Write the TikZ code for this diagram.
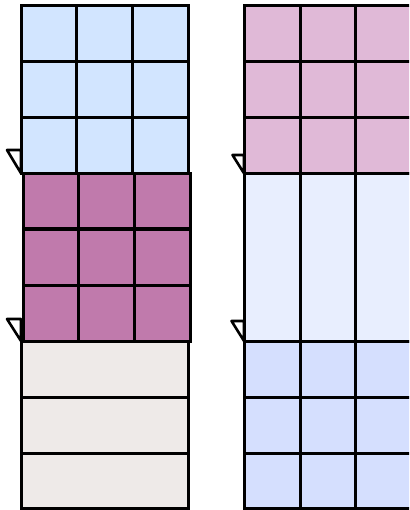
\documentclass[tikz,border=0pt]{standalone}
\begin{document}
\begin{tikzpicture}[x=1pt,y=-1pt,
  gridline/.style={line width=3pt,draw=black},
  tri/.style={line width=2.6pt,draw=black,fill=white,line join=round}]
\definecolor{lblue}{HTML}{D2E5FF}
\definecolor{mag}{HTML}{C07AAC}
\definecolor{beige}{HTML}{EEEAE8}
\definecolor{pink}{HTML}{E0B9D7}
\definecolor{lav}{HTML}{E8EEFE}
\definecolor{bblue}{HTML}{D5DFFE}
\useasboundingbox (0,0) rectangle (409,510);
\clip (0,0) rectangle (409,510);
% left column
\fill[lblue] (21,6) rectangle (188,173.3);
\fill[mag] (23,173.3) rectangle (190,341);
\fill[beige] (21,341) rectangle (188,508);
% right column
\fill[pink] (244,6) rectangle (411.7,173.3);
\fill[lav] (244,173.3) rectangle (411.7,341);
\fill[bblue] (244,341) rectangle (411.7,508);
% left grids
\draw[gridline] (21,6) rectangle (188,173.3);
\foreach \x in {76.7,132.3} \draw[gridline] (\x,6) -- (\x,173.3);
\foreach \y in {62,117.7} \draw[gridline] (21,\y) -- (188,\y);
\draw[gridline] (23,173.3) rectangle (190,341);
\foreach \x in {78.7,134.3} \draw[gridline] (\x,173.3) -- (\x,341);
\foreach \y in {229,285} \draw[gridline] (23,\y) -- (190,\y);
\draw[gridline] (21,341) rectangle (188,508);
\foreach \y in {397,453} \draw[gridline] (21,\y) -- (188,\y);
% right grids
\draw[gridline] (244,6) rectangle (411.7,173.3);
\foreach \x in {300,355.8} \draw[gridline] (\x,6) -- (\x,173.3);
\foreach \y in {62,117.7} \draw[gridline] (244,\y) -- (411.7,\y);
\draw[gridline] (244,173.3) rectangle (411.7,341);
\foreach \x in {300,355.8} \draw[gridline] (\x,173.3) -- (\x,341);
\draw[gridline] (244,341) rectangle (411.7,508);
\foreach \x in {300,355.8} \draw[gridline] (\x,341) -- (\x,508);
\foreach \y in {397,453} \draw[gridline] (244,\y) -- (411.7,\y);
% markers
\coordinate (la) at (21,173.3);
\coordinate (lb) at (21,341);
\coordinate (ra) at (244,173.3);
\coordinate (rb) at (244,341);
\draw[tri] (7,150) -- (21,150) -- (la) -- cycle;
\draw[tri] (7,319) -- (21,319) -- (lb) -- cycle;
\draw[tri] (232.5,155) -- (244,155) -- (ra) -- cycle;
\draw[tri] (231.5,321) -- (244,321) -- (rb) -- cycle;
\end{tikzpicture}
\end{document}
